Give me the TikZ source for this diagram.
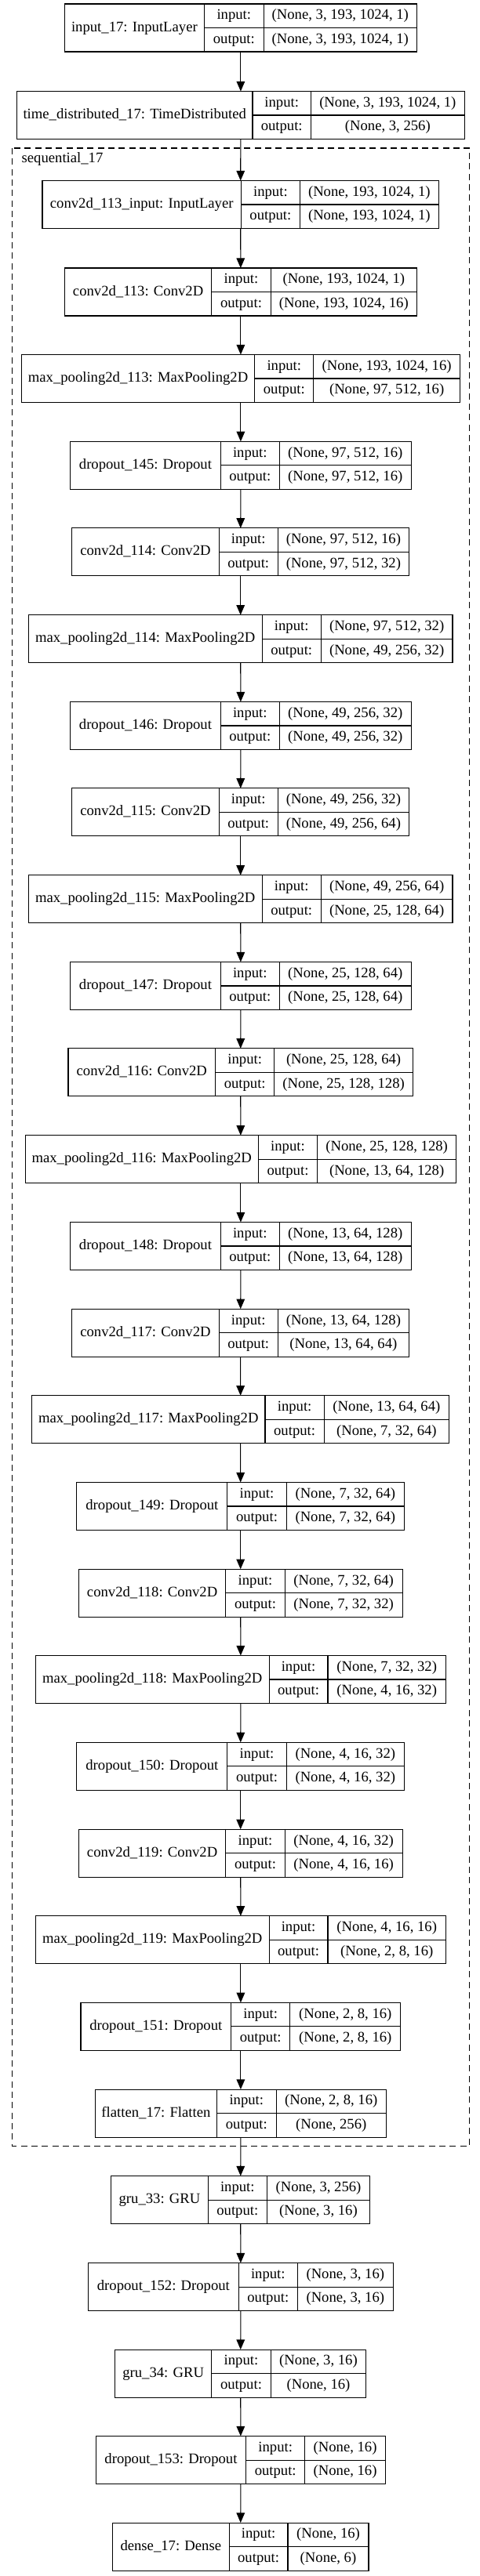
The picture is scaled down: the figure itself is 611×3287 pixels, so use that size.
\documentclass[tikz,border=0pt]{standalone}
\usepackage{fontspec}
\setmainfont{Liberation Serif}
\usetikzlibrary{arrows.meta}

% one record: name, centre y, x0, x1, x2, x3, label, input shape, output shape
\newcommand{\layer}[9]{%
  \node [layerbox,minimum width={(#6-#3)*0.75pt}] (#1) at ({(#3+#6)/2},#2) {};
  \draw [divider] (#4,#2-30.5) -- (#4,#2+30.5);
  \draw [divider] (#5,#2-30.5) -- (#5,#2+30.5);
  \draw [divider] (#4,#2) -- (#6,#2);
  \node [txt] (#1-name) at ({(#3+#4)/2},#2) {#7};
  \node [txt] (#1-in) at ({(#4+#5)/2},#2-15.25) {input:};
  \node [txt] (#1-out) at ({(#4+#5)/2},#2+15.25) {output:};
  \node [txt] (#1-ishape) at ({(#5+#6)/2},#2-15.25) {#8};
  \node [txt] (#1-oshape) at ({(#5+#6)/2},#2+15.25) {#9};
}

\begin{document}
\begin{tikzpicture}[x=0.75pt,y=-0.75pt]
\tikzstyle{layerbox}=[draw,line width=0.8pt,inner sep=0pt,outer sep=0pt,minimum height=45.75pt];
\tikzstyle{divider}=[line width=0.8pt];
\tikzstyle{txt}=[inner sep=0pt,font=\fontsize{14}{16}\selectfont,text height=10pt,text depth=3pt];
\tikzstyle{flow}=[-{Triangle[length=9.5pt,width=8pt]},line width=0.8pt];
\tikzstyle{cluster}=[line width=0.8pt,dash pattern=on 6pt off 4pt];
\useasboundingbox (0,0) rectangle (611,3287);

\draw [cluster] (15.7,189) rectangle (598.5,2738);
\node [txt,anchor=west] (seq17) at (27.4,203) {sequential\_17};

\layer{in17}{35.5}{82.3}{260.5}{336.1}{531.5}{input\_17: InputLayer}{(None, 3, 193, 1024, 1)}{(None, 3, 193, 1024, 1)}
\layer{td17}{147}{21.5}{322}{396.4}{592.3}{time\_distributed\_17: TimeDistributed}{(None, 3, 193, 1024, 1)}{(None, 3, 256)}
\layer{c113in}{261}{54}{307.5}{382.3}{559.3}{conv2d\_113\_input: InputLayer}{(None, 193, 1024, 1)}{(None, 193, 1024, 1)}
\layer{c113}{372.5}{82.3}{269.9}{345.1}{531.5}{conv2d\_113: Conv2D}{(None, 193, 1024, 1)}{(None, 193, 1024, 16)}
\layer{mp113}{483}{27.4}{324.7}{399.9}{586.4}{max\_pooling2d\_113: MaxPooling2D}{(None, 193, 1024, 16)}{(None, 97, 512, 16)}
\layer{do145}{593.8}{89.7}{281.2}{356.4}{524.1}{dropout\_145: Dropout}{(None, 97, 512, 16)}{(None, 97, 512, 16)}
\layer{c114}{704.3}{91.7}{279.3}{354.1}{521.7}{conv2d\_114: Conv2D}{(None, 97, 512, 16)}{(None, 97, 512, 32)}
\layer{mp114}{815.2}{36.4}{334.1}{409.3}{577}{max\_pooling2d\_114: MaxPooling2D}{(None, 97, 512, 32)}{(None, 49, 256, 32)}
\layer{do146}{926}{89.7}{281.2}{356.4}{524.1}{dropout\_146: Dropout}{(None, 49, 256, 32)}{(None, 49, 256, 32)}
\layer{c115}{1036.3}{91.7}{279.3}{354.1}{521.7}{conv2d\_115: Conv2D}{(None, 49, 256, 32)}{(None, 49, 256, 64)}
\layer{mp115}{1147.3}{36.4}{334.1}{409.3}{577}{max\_pooling2d\_115: MaxPooling2D}{(None, 49, 256, 64)}{(None, 25, 128, 64)}
\layer{do147}{1258}{89.7}{281.2}{356.4}{524.1}{dropout\_147: Dropout}{(None, 25, 128, 64)}{(None, 25, 128, 64)}
\layer{c116}{1368.3}{87}{274.6}{349.8}{526.4}{conv2d\_116: Conv2D}{(None, 25, 128, 64)}{(None, 25, 128, 128)}
\layer{mp116}{1479.2}{32.1}{329.4}{404.6}{581.7}{max\_pooling2d\_116: MaxPooling2D}{(None, 25, 128, 128)}{(None, 13, 64, 128)}
\layer{do148}{1590}{89.7}{281.2}{356.4}{524.1}{dropout\_148: Dropout}{(None, 13, 64, 128)}{(None, 13, 64, 128)}
\layer{c117}{1700.7}{91.7}{279.3}{354.1}{521.7}{conv2d\_117: Conv2D}{(None, 13, 64, 128)}{(None, 13, 64, 64)}
\layer{mp117}{1811.2}{40.7}{338}{413.2}{572.6}{max\_pooling2d\_117: MaxPooling2D}{(None, 13, 64, 64)}{(None, 7, 32, 64)}
\layer{do149}{1922}{97.9}{289.9}{365.1}{515.5}{dropout\_149: Dropout}{(None, 7, 32, 64)}{(None, 7, 32, 64)}
\layer{c118}{2032.7}{100.3}{287.9}{363.1}{513.1}{conv2d\_118: Conv2D}{(None, 7, 32, 64)}{(None, 7, 32, 32)}
\layer{mp118}{2143}{45.4}{343.1}{418}{568.4}{max\_pooling2d\_118: MaxPooling2D}{(None, 7, 32, 32)}{(None, 4, 16, 32)}
\layer{do150}{2253.8}{97.9}{289.9}{365.1}{515.5}{dropout\_150: Dropout}{(None, 4, 16, 32)}{(None, 4, 16, 32)}
\layer{c119}{2364.7}{100.3}{287.9}{363.1}{513.1}{conv2d\_119: Conv2D}{(None, 4, 16, 32)}{(None, 4, 16, 16)}
\layer{mp119}{2475.2}{45.4}{343.1}{418}{568.4}{max\_pooling2d\_119: MaxPooling2D}{(None, 4, 16, 16)}{(None, 2, 8, 16)}
\layer{do151}{2585.8}{103}{294.6}{369.8}{510.8}{dropout\_151: Dropout}{(None, 2, 8, 16)}{(None, 2, 8, 16)}
\layer{fl17}{2696.5}{121.4}{276.5}{352.1}{492.4}{flatten\_17: Flatten}{(None, 2, 8, 16)}{(None, 256)}
\layer{gru33}{2807}{141.8}{265.2}{340.4}{471.6}{gru\_33: GRU}{(None, 3, 256)}{(None, 3, 16)}
\layer{do152}{2918}{112.4}{304.4}{379.2}{501.4}{dropout\_152: Dropout}{(None, 3, 16)}{(None, 3, 16)}
\layer{gru34}{3028.5}{146.5}{269.9}{345.1}{466.9}{gru\_34: GRU}{(None, 3, 16)}{(None, 16)}
\layer{do153}{3139}{122.2}{313.8}{388.6}{491.6}{dropout\_153: Dropout}{(None, 16)}{(None, 16)}
\layer{de17}{3249.5}{143.4}{292.2}{367}{470}{dense\_17: Dense}{(None, 16)}{(None, 6)}

\draw [flow] (in17) -- (td17);
\draw [flow] (td17) -- (c113in);
\draw [flow] (c113in) -- (c113);
\draw [flow] (c113) -- (mp113);
\draw [flow] (mp113) -- (do145);
\draw [flow] (do145) -- (c114);
\draw [flow] (c114) -- (mp114);
\draw [flow] (mp114) -- (do146);
\draw [flow] (do146) -- (c115);
\draw [flow] (c115) -- (mp115);
\draw [flow] (mp115) -- (do147);
\draw [flow] (do147) -- (c116);
\draw [flow] (c116) -- (mp116);
\draw [flow] (mp116) -- (do148);
\draw [flow] (do148) -- (c117);
\draw [flow] (c117) -- (mp117);
\draw [flow] (mp117) -- (do149);
\draw [flow] (do149) -- (c118);
\draw [flow] (c118) -- (mp118);
\draw [flow] (mp118) -- (do150);
\draw [flow] (do150) -- (c119);
\draw [flow] (c119) -- (mp119);
\draw [flow] (mp119) -- (do151);
\draw [flow] (do151) -- (fl17);
\draw [flow] (fl17) -- (gru33);
\draw [flow] (gru33) -- (do152);
\draw [flow] (do152) -- (gru34);
\draw [flow] (gru34) -- (do153);
\draw [flow] (do153) -- (de17);
\end{tikzpicture}
\end{document}
